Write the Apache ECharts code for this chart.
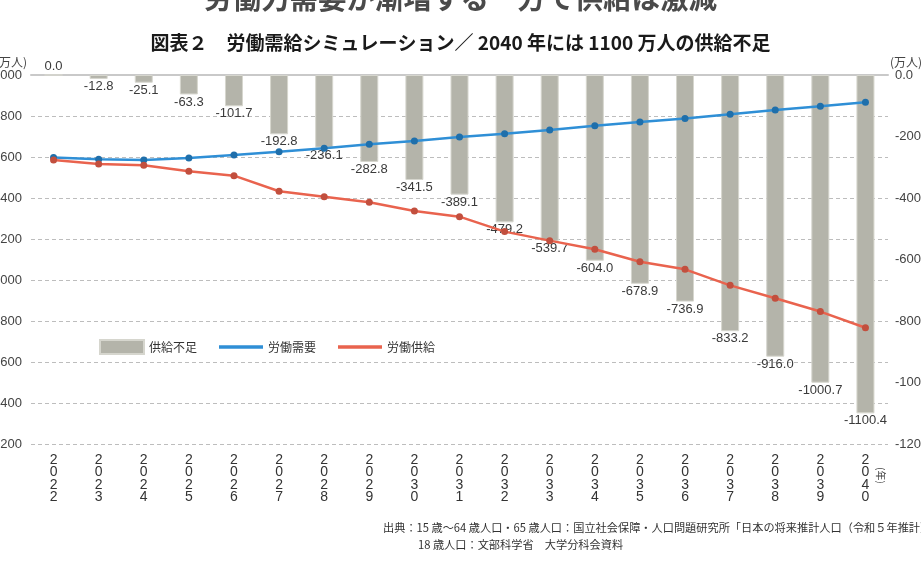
<!DOCTYPE html>
<html>
<head>
<meta charset="utf-8">
<script src="https://cdn.jsdelivr.net/npm/echarts@6/dist/echarts.min.js"></script>
<style>
  html, body { margin: 0; padding: 0; background: #fff; }
  #chart { width: 921px; height: 562px; }
</style>
</head>
<body>
<div id="chart"></div>
<script>
// 労働需給シミュレーション (万人)
const years = ['2022', '2023', '2024', '2025', '2026', '2027', '2028', '2029', '2030', '2031',
  '2032', '2033', '2034', '2035', '2036', '2037', '2038', '2039', '2040'];
const shortage = [0.0, -12.8, -25.1, -63.3, -101.7, -192.8, -236.1, -282.8, -341.5, -389.1,
  -479.2, -539.7, -604.0, -678.9, -736.9, -833.2, -916.0, -1000.7, -1100.4];
const demand = [6598, 6589, 6585, 6595, 6610, 6626, 6643, 6662, 6678, 6697,
  6714, 6732, 6753, 6771, 6788, 6808, 6829, 6847, 6867];
const supply = [6585, 6566, 6560, 6530, 6509, 6433, 6406, 6379, 6337, 6309,
  6236, 6192, 6150, 6089, 6052, 5974, 5911, 5846, 5767];
const leftRange = [5200, 7000];
const rightRange = [-1200, 0];
const tickStep = 200;

const font = "'Liberation Sans', 'Noto Sans CJK JP', sans-serif";
const jpFont = "'Noto Sans CJK JP', 'Liberation Sans', sans-serif";
const lineIcon = 'path://M0,0 L40,0 L40,3 L0,3 Z';

const chart = echarts.init(document.getElementById('chart'));

const option = {
  animation: false,
  backgroundColor: '#fff',
  textStyle: { fontFamily: font },
  title: [
    {
      text: '労働力需要が漸増する一方で供給は激減',
      left: 'center',
      top: -21,
      textStyle: { fontFamily: jpFont, fontSize: 28.5, fontWeight: 'bold', color: '#4a4a4a' }
    },
    {
      text: '図表２　労働需給シミュレーション／ 2040 年には 1100 万人の供給不足',
      left: 'center',
      top: 28,
      textStyle: { fontFamily: jpFont, fontSize: 19, fontWeight: 'bold', color: '#1a1a1a' }
    }
  ],
  legend: {
    left: 94,
    top: 334,
    itemWidth: 44,
    itemHeight: 14,
    itemGap: 22,
    textStyle: { fontFamily: jpFont, fontSize: 12, color: '#333' },
    data: [
      { name: '供給不足', icon: 'rect' },
      { name: '労働需要', icon: lineIcon, itemStyle: { color: '#2f8fd6' } },
      { name: '労働供給', icon: lineIcon, itemStyle: { color: '#e9634e' } }
    ]
  },
  grid: { left: 31, right: 33, top: 75, bottom: 118, containLabel: false, outerBoundsMode: 'none' },
  xAxis: [
    {
      type: 'category',
      data: years,
      position: 'bottom',
      axisLine: { show: false, onZero: false },
      axisTick: { show: false },
      axisLabel: {
        interval: 0,
        margin: 10,
        fontSize: 14,
        lineHeight: 12.3,
        color: '#333',
        formatter: v => v.split('').join('\n')
      },
      name: '(年)',
      nameLocation: 'end',
      nameGap: -7,
      nameRotate: -90,
      nameTextStyle: {
        fontFamily: jpFont,
        fontSize: 10,
        color: '#444',
        align: 'left',
        verticalAlign: 'middle',
        padding: [0, 0, 0, 23]
      }
    },
    {
      type: 'category',
      data: years,
      position: 'top',
      axisLine: { show: true, onZero: false, lineStyle: { color: '#c9c9c9', width: 2 } },
      axisTick: { show: false },
      axisLabel: { show: false }
    }
  ],
  yAxis: [
    {
      type: 'value',
      min: leftRange[0],
      max: leftRange[1],
      interval: tickStep,
      name: '(万人)',
      nameLocation: 'end',
      nameGap: 7,
      nameTextStyle: { fontFamily: jpFont, fontSize: 12, color: '#444', align: 'right', padding: [0, 4, 0, 0] },
      axisLine: { show: false },
      axisTick: { show: false },
      axisLabel: { margin: 9, fontSize: 13, color: '#444', formatter: v => String(v) },
      splitLine: { lineStyle: { color: '#bdbdbd', type: [4, 3], width: 1 } }
    },
    {
      type: 'value',
      min: rightRange[0],
      max: rightRange[1],
      interval: tickStep,
      position: 'right',
      name: '(万人)',
      nameLocation: 'end',
      nameGap: 7,
      nameTextStyle: { fontFamily: jpFont, fontSize: 12, color: '#444', align: 'left', padding: [0, 0, 0, 2] },
      axisLine: { show: false },
      axisTick: { show: false },
      axisLabel: {
        margin: 7,
        fontSize: 13,
        color: '#444',
        formatter: v => (v === 0 ? '0.0' : String(v))
      },
      splitLine: { show: false }
    }
  ],
  series: [
    {
      name: '供給不足',
      type: 'bar',
      xAxisIndex: 0,
      yAxisIndex: 1,
      barWidth: 18,
      itemStyle: { color: '#b4b4aa', borderColor: '#d6d6ce', borderWidth: 1 },
      label: {
        show: true,
        position: 'bottom',
        distance: 1,
        fontSize: 13,
        color: '#3a3a3a',
        formatter: p => p.value.toFixed(1)
      },
      data: shortage.map((v, i) => (i === 0 ? { value: v, label: { position: 'top', distance: 2 } } : v)),
      z: 1
    },
    {
      name: '労働需要',
      type: 'line',
      xAxisIndex: 0,
      yAxisIndex: 0,
      data: demand,
      symbol: 'circle',
      symbolSize: 7,
      lineStyle: { color: '#2f8fd6', width: 2.5 },
      itemStyle: { color: '#1f6fab' },
      z: 3
    },
    {
      name: '労働供給',
      type: 'line',
      xAxisIndex: 0,
      yAxisIndex: 0,
      data: supply,
      symbol: 'circle',
      symbolSize: 7,
      lineStyle: { color: '#e9634e', width: 2.5 },
      itemStyle: { color: '#c24f3e' },
      z: 4
    }
  ],
  graphic: [
    {
      type: 'text',
      left: 383,
      top: 522,
      style: {
        text: '出典：15 歳～64 歳人口・65 歳人口：国立社会保障・人口問題研究所「日本の将来推計人口（令和５年推計）」',
        font: "11.2px 'Noto Sans CJK JP', sans-serif",
        fill: '#333'
      }
    },
    {
      type: 'text',
      left: 418,
      top: 539,
      style: {
        text: '18 歳人口：文部科学省　大学分科会資料',
        font: "11.2px 'Noto Sans CJK JP', sans-serif",
        fill: '#333'
      }
    }
  ]
};

chart.setOption(option);
</script>
</body>
</html>
